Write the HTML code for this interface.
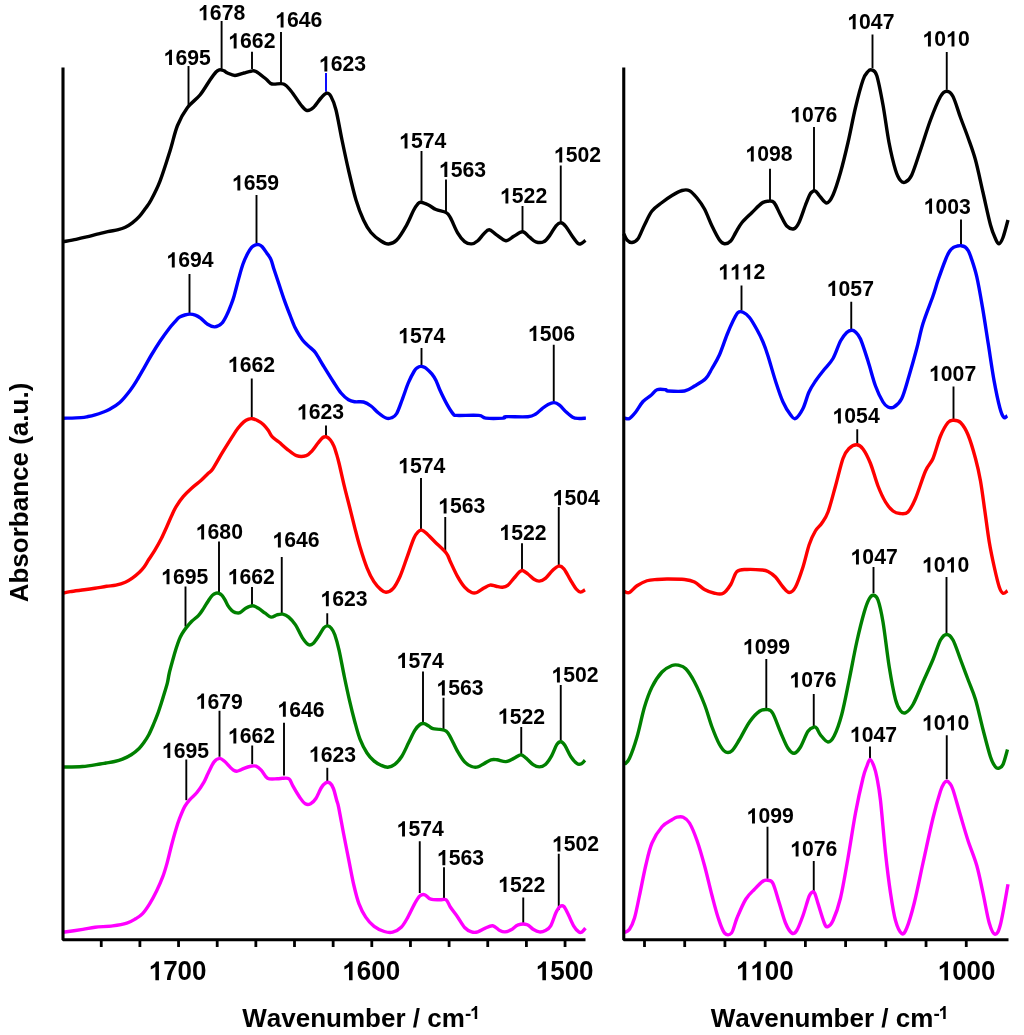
<!DOCTYPE html>
<html><head><meta charset="utf-8"><title>FTIR spectra</title>
<style>
html,body{margin:0;padding:0;background:#fff;}
body{width:1024px;height:1035px;overflow:hidden;}
svg{display:block;will-change:transform;}
text{font-family:"Liberation Sans",sans-serif;font-weight:bold;fill:#000;font-kerning:none;}
.c{fill:none;stroke-width:3.4;stroke-linejoin:round;stroke-linecap:butt;}
.ax{stroke:#000;stroke-width:3.1;fill:none;stroke-linecap:butt;stroke-linejoin:bevel;}
.tk{stroke:#000;stroke-width:2.8;}
.ld{stroke-width:1.9;}
.pl{font-size:21.2px;}
.tl{font-size:26px;}
.tt{font-size:26px;}
</style></head>
<body>
<svg width="1024" height="1035" viewBox="0 0 1024 1035">
<rect width="1024" height="1035" fill="#fff"/>
<defs><path id="one" d="M806 0H525V1059Q371 915 162 846V1101Q272 1137 401 1237.5Q530 1338 578 1472H806Z"/></defs>
<g class="ld">
<line x1="188.50" y1="66.00" x2="188.50" y2="105.80" stroke="#000"/>
<line x1="221.60" y1="21.00" x2="221.60" y2="68.80" stroke="#000"/>
<line x1="252.00" y1="51.70" x2="252.00" y2="69.00" stroke="#000"/>
<line x1="281.00" y1="32.00" x2="281.00" y2="84.80" stroke="#000"/>
<line x1="326.00" y1="73.00" x2="326.00" y2="91.80" stroke="#0000ff"/>
<line x1="421.50" y1="151.00" x2="421.50" y2="200.80" stroke="#000"/>
<line x1="446.00" y1="179.50" x2="446.00" y2="212.80" stroke="#000"/>
<line x1="522.50" y1="206.00" x2="522.50" y2="230.80" stroke="#000"/>
<line x1="560.75" y1="165.50" x2="560.75" y2="221.80" stroke="#000"/>
<line x1="770.00" y1="168.75" x2="770.00" y2="200.80" stroke="#000"/>
<line x1="814.00" y1="127.00" x2="814.00" y2="190.30" stroke="#000"/>
<line x1="872.50" y1="34.50" x2="872.50" y2="68.30" stroke="#000"/>
<line x1="946.75" y1="52.00" x2="946.75" y2="89.80" stroke="#000"/>
<line x1="256.50" y1="195.00" x2="256.50" y2="243.30" stroke="#000"/>
<line x1="189.50" y1="274.00" x2="189.50" y2="314.30" stroke="#000"/>
<line x1="421.50" y1="348.00" x2="421.50" y2="365.80" stroke="#000"/>
<line x1="553.75" y1="344.75" x2="553.75" y2="401.80" stroke="#000"/>
<line x1="741.50" y1="285.50" x2="741.50" y2="310.55" stroke="#000"/>
<line x1="851.25" y1="301.75" x2="851.25" y2="329.30" stroke="#000"/>
<line x1="961.00" y1="219.50" x2="961.00" y2="244.30" stroke="#000"/>
<line x1="251.75" y1="378.50" x2="251.75" y2="417.80" stroke="#000"/>
<line x1="326.00" y1="425.50" x2="326.00" y2="436.30" stroke="#000"/>
<line x1="421.00" y1="478.00" x2="421.00" y2="529.05" stroke="#000"/>
<line x1="445.25" y1="517.00" x2="445.25" y2="551.80" stroke="#000"/>
<line x1="522.00" y1="543.25" x2="522.00" y2="570.30" stroke="#000"/>
<line x1="558.75" y1="507.00" x2="558.75" y2="565.60" stroke="#000"/>
<line x1="857.25" y1="429.25" x2="857.25" y2="443.80" stroke="#000"/>
<line x1="953.50" y1="386.50" x2="953.50" y2="419.30" stroke="#000"/>
<line x1="185.50" y1="586.50" x2="185.50" y2="626.55" stroke="#000"/>
<line x1="219.00" y1="541.50" x2="219.00" y2="592.80" stroke="#000"/>
<line x1="252.00" y1="587.00" x2="252.00" y2="605.80" stroke="#000"/>
<line x1="281.75" y1="557.00" x2="281.75" y2="614.05" stroke="#000"/>
<line x1="327.25" y1="613.25" x2="327.25" y2="625.30" stroke="#000"/>
<line x1="423.00" y1="671.50" x2="423.00" y2="723.30" stroke="#000"/>
<line x1="443.50" y1="697.75" x2="443.50" y2="729.05" stroke="#000"/>
<line x1="521.25" y1="727.00" x2="521.25" y2="754.05" stroke="#000"/>
<line x1="560.75" y1="685.00" x2="560.75" y2="740.80" stroke="#000"/>
<line x1="766.30" y1="659.00" x2="766.30" y2="709.05" stroke="#000"/>
<line x1="813.75" y1="694.00" x2="813.75" y2="726.55" stroke="#000"/>
<line x1="873.50" y1="567.00" x2="873.50" y2="593.30" stroke="#000"/>
<line x1="946.50" y1="577.00" x2="946.50" y2="633.30" stroke="#000"/>
<line x1="186.30" y1="759.50" x2="186.30" y2="800.20" stroke="#000"/>
<line x1="219.50" y1="710.75" x2="219.50" y2="756.80" stroke="#000"/>
<line x1="252.20" y1="745.50" x2="252.20" y2="764.20" stroke="#000"/>
<line x1="284.00" y1="722.75" x2="284.00" y2="775.60" stroke="#000"/>
<line x1="327.30" y1="767.80" x2="327.30" y2="781.80" stroke="#000"/>
<line x1="419.75" y1="841.25" x2="419.75" y2="893.05" stroke="#000"/>
<line x1="444.00" y1="867.25" x2="444.00" y2="898.80" stroke="#000"/>
<line x1="523.25" y1="897.50" x2="523.25" y2="923.80" stroke="#000"/>
<line x1="558.75" y1="853.75" x2="558.75" y2="910.05" stroke="#000"/>
<line x1="767.50" y1="826.75" x2="767.50" y2="878.80" stroke="#000"/>
<line x1="813.75" y1="861.00" x2="813.75" y2="891.30" stroke="#000"/>
<line x1="870.00" y1="746.50" x2="870.00" y2="759.05" stroke="#000"/>
<line x1="946.75" y1="735.25" x2="946.75" y2="779.30" stroke="#000"/>
</g>
<path class="c" stroke="#000000" d="M63.00 241.80 C65.18 241.38 72.17 240.12 76.10 239.30 C80.03 238.48 83.08 237.75 86.60 236.90 C90.12 236.05 93.68 235.08 97.20 234.20 C100.72 233.32 104.18 232.35 107.70 231.60 C111.22 230.85 115.37 230.42 118.30 229.70 C121.23 228.98 122.97 228.43 125.30 227.30 C127.63 226.17 129.95 224.72 132.30 222.90 C134.65 221.08 137.25 218.75 139.40 216.40 C141.55 214.05 143.25 211.53 145.20 208.80 C147.15 206.07 148.63 204.60 151.10 200.00 C153.57 195.40 156.85 189.37 160.00 181.20 C163.15 173.03 167.08 160.28 170.00 151.00 C172.92 141.72 174.58 132.75 177.50 125.50 C180.42 118.25 183.75 112.58 187.50 107.50 C191.25 102.42 196.25 99.58 200.00 95.00 C203.75 90.42 207.33 83.83 210.00 80.00 C212.67 76.17 214.42 73.70 216.00 72.00 C217.58 70.30 218.50 70.12 219.50 69.80 C220.50 69.48 221.17 69.90 222.00 70.10 C222.83 70.30 223.58 70.52 224.50 71.00 C225.42 71.48 225.75 72.25 227.50 73.00 C229.25 73.75 232.25 75.50 235.00 75.50 C237.75 75.50 241.33 73.72 244.00 73.00 C246.67 72.28 249.00 71.45 251.00 71.20 C253.00 70.95 253.50 70.20 256.00 71.50 C258.50 72.80 263.33 76.92 266.00 79.00 C268.67 81.08 269.08 83.17 272.00 84.00 C274.92 84.83 280.33 82.83 283.50 84.00 C286.67 85.17 288.08 87.50 291.00 91.00 C293.92 94.50 298.33 101.75 301.00 105.00 C303.67 108.25 304.92 110.08 307.00 110.50 C309.08 110.92 311.17 109.58 313.50 107.50 C315.83 105.42 318.83 100.38 321.00 98.00 C323.17 95.62 324.83 93.45 326.50 93.20 C328.17 92.95 329.42 93.70 331.00 96.50 C332.58 99.30 334.17 102.75 336.00 110.00 C337.83 117.25 339.92 130.00 342.00 140.00 C344.08 150.00 346.17 160.00 348.50 170.00 C350.83 180.00 353.50 191.67 356.00 200.00 C358.50 208.33 361.00 214.58 363.50 220.00 C366.00 225.42 368.08 229.00 371.00 232.50 C373.92 236.00 378.08 239.08 381.00 241.00 C383.92 242.92 385.92 244.12 388.50 244.00 C391.08 243.88 393.50 243.42 396.50 240.30 C399.50 237.18 403.67 230.27 406.50 225.30 C409.33 220.33 411.61 214.07 413.50 210.50 C415.39 206.93 416.60 205.24 417.85 203.86 C419.10 202.48 419.23 202.01 421.00 202.20 C422.77 202.39 426.00 203.78 428.50 205.00 C431.00 206.22 433.05 208.23 436.00 209.50 C438.95 210.77 443.78 211.20 446.20 212.60 C448.62 214.00 448.60 214.53 450.50 217.90 C452.40 221.27 455.25 228.85 457.60 232.80 C459.95 236.75 462.27 239.75 464.60 241.60 C466.93 243.45 469.40 244.05 471.60 243.90 C473.80 243.75 475.75 242.40 477.80 240.70 C479.85 239.00 482.00 235.52 483.90 233.70 C485.80 231.88 487.15 229.65 489.20 229.80 C491.25 229.95 493.42 232.78 496.20 234.60 C498.98 236.42 502.97 240.42 505.90 240.70 C508.83 240.98 511.02 237.78 513.80 236.30 C516.58 234.82 519.97 231.65 522.60 231.80 C525.23 231.95 527.40 235.53 529.60 237.20 C531.80 238.87 533.45 241.03 535.80 241.80 C538.15 242.57 541.37 242.87 543.70 241.80 C546.03 240.73 547.75 238.07 549.80 235.40 C551.85 232.73 554.15 227.90 556.00 225.80 C557.85 223.70 559.28 222.72 560.90 222.80 C562.52 222.88 563.88 224.20 565.70 226.30 C567.52 228.40 569.75 232.55 571.80 235.40 C573.85 238.25 576.38 242.07 578.00 243.40 C579.62 244.73 580.25 243.90 581.50 243.40 C582.75 242.90 584.83 240.90 585.50 240.40"/>
<path class="c" stroke="#000000" d="M623.75 233.75 C624.29 234.79 625.62 238.54 627.00 240.00 C628.38 241.46 630.17 242.71 632.00 242.50 C633.83 242.29 635.92 241.67 638.00 238.75 C640.08 235.83 642.17 229.62 644.50 225.00 C646.83 220.38 649.08 214.75 652.00 211.00 C654.92 207.25 658.67 205.08 662.00 202.50 C665.33 199.92 668.67 197.50 672.00 195.50 C675.33 193.50 679.08 191.30 682.00 190.50 C684.92 189.70 687.00 189.45 689.50 190.70 C692.00 191.95 694.50 194.95 697.00 198.00 C699.50 201.05 702.00 204.33 704.50 209.00 C707.00 213.67 709.50 220.83 712.00 226.00 C714.50 231.17 717.42 237.04 719.50 240.00 C721.58 242.96 722.62 243.58 724.50 243.75 C726.38 243.92 728.88 242.88 730.75 241.00 C732.62 239.12 733.88 235.58 735.75 232.50 C737.62 229.42 739.29 225.83 742.00 222.50 C744.71 219.17 748.67 215.75 752.00 212.50 C755.33 209.25 759.33 204.88 762.00 203.00 C764.67 201.12 766.00 201.28 768.00 201.20 C770.00 201.12 771.92 200.20 774.00 202.50 C776.08 204.80 778.38 211.08 780.50 215.00 C782.62 218.92 784.50 223.71 786.75 226.00 C789.00 228.29 791.96 229.33 794.00 228.75 C796.04 228.17 797.08 226.46 799.00 222.50 C800.92 218.54 803.75 209.55 805.50 205.00 C807.25 200.45 808.42 197.38 809.50 195.20 C810.58 193.02 811.20 192.63 812.00 191.90 C812.80 191.17 813.55 190.80 814.30 190.80 C815.05 190.80 815.63 191.07 816.50 191.90 C817.37 192.73 817.79 193.95 819.50 195.80 C821.21 197.65 824.50 203.13 826.75 203.00 C829.00 202.87 830.71 200.08 833.00 195.00 C835.29 189.92 838.00 181.25 840.50 172.50 C843.00 163.75 845.50 153.33 848.00 142.50 C850.50 131.67 853.00 117.92 855.50 107.50 C858.00 97.08 860.92 86.00 863.00 80.00 C865.08 74.00 866.54 73.17 868.00 71.50 C869.46 69.83 870.29 69.28 871.75 69.95 C873.21 70.62 874.88 69.66 876.75 75.50 C878.62 81.34 880.96 93.83 883.00 105.00 C885.04 116.17 886.92 131.67 889.00 142.50 C891.08 153.33 893.58 163.67 895.50 170.00 C897.42 176.33 898.83 178.50 900.50 180.50 C902.17 182.50 903.62 182.92 905.50 182.00 C907.38 181.08 909.25 180.33 911.75 175.00 C914.25 169.67 917.38 159.17 920.50 150.00 C923.62 140.83 927.17 128.92 930.50 120.00 C933.83 111.08 937.79 101.30 940.50 96.50 C943.21 91.70 944.67 91.20 946.75 91.20 C948.83 91.20 950.71 92.12 953.00 96.50 C955.29 100.88 958.00 110.67 960.50 117.50 C963.00 124.33 965.50 130.42 968.00 137.50 C970.50 144.58 973.00 150.83 975.50 160.00 C978.00 169.17 980.50 181.67 983.00 192.50 C985.50 203.33 988.42 217.29 990.50 225.00 C992.58 232.71 994.08 235.62 995.50 238.75 C996.92 241.88 997.75 243.96 999.00 243.75 C1000.25 243.54 1001.50 241.46 1003.00 237.50 C1004.50 233.54 1007.17 222.92 1008.00 220.00"/>
<path class="c" stroke="#0000ff" d="M63.00 418.30 C66.02 418.18 76.92 417.90 81.10 417.60 C85.28 417.30 85.77 416.97 88.10 416.50 C90.43 416.03 92.75 415.47 95.10 414.80 C97.45 414.13 99.85 413.38 102.20 412.50 C104.55 411.62 106.28 411.17 109.20 409.50 C112.12 407.83 116.23 405.72 119.75 402.50 C123.27 399.28 127.38 394.02 130.30 390.20 C133.23 386.38 134.95 383.42 137.30 379.60 C139.65 375.78 142.05 371.40 144.40 367.30 C146.75 363.20 148.77 359.38 151.40 355.00 C154.03 350.62 157.27 345.38 160.20 341.00 C163.13 336.62 166.52 331.93 169.00 328.70 C171.48 325.47 173.35 323.52 175.10 321.60 C176.85 319.68 177.88 318.30 179.50 317.20 C181.12 316.10 183.03 315.52 184.80 315.00 C186.57 314.48 188.35 314.08 190.10 314.10 C191.85 314.12 193.55 314.43 195.30 315.10 C197.05 315.77 198.55 316.57 200.60 318.10 C202.65 319.63 205.25 322.83 207.60 324.30 C209.95 325.77 212.35 327.05 214.70 326.90 C217.05 326.75 219.65 325.45 221.70 323.40 C223.75 321.35 225.45 317.67 227.00 314.60 C228.55 311.53 229.82 308.12 231.00 305.00 C232.18 301.88 232.81 300.33 234.10 295.90 C235.39 291.47 237.28 283.67 238.75 278.40 C240.22 273.13 241.44 268.41 242.90 264.30 C244.36 260.19 246.05 256.58 247.50 253.75 C248.95 250.92 250.32 248.76 251.60 247.30 C252.88 245.84 254.02 245.45 255.20 245.00 C256.38 244.55 257.53 244.32 258.70 244.60 C259.87 244.88 260.83 245.27 262.20 246.70 C263.57 248.13 265.43 251.05 266.90 253.20 C268.37 255.35 269.83 256.97 271.00 259.60 C272.17 262.23 272.63 265.10 273.90 269.00 C275.17 272.90 276.83 277.73 278.60 283.00 C280.37 288.27 282.55 295.12 284.50 300.60 C286.45 306.08 288.55 311.40 290.30 315.90 C292.05 320.40 293.43 324.28 295.00 327.60 C296.57 330.92 298.13 333.37 299.70 335.80 C301.27 338.23 302.65 340.25 304.40 342.20 C306.15 344.15 308.35 345.73 310.20 347.50 C312.05 349.27 313.28 349.72 315.50 352.80 C317.72 355.88 320.50 361.13 323.50 366.00 C326.50 370.87 330.58 377.50 333.50 382.00 C336.42 386.50 338.50 390.04 341.00 393.00 C343.50 395.96 346.21 398.29 348.50 399.75 C350.79 401.21 352.25 401.38 354.75 401.75 C357.25 402.12 360.79 401.29 363.50 402.00 C366.21 402.71 368.50 404.17 371.00 406.00 C373.50 407.83 376.00 411.00 378.50 413.00 C381.00 415.00 383.83 417.20 386.00 418.00 C388.17 418.80 389.72 418.55 391.50 417.80 C393.28 417.05 394.87 416.67 396.70 413.50 C398.53 410.33 400.55 403.93 402.50 398.80 C404.45 393.67 406.43 387.33 408.40 382.70 C410.37 378.07 412.78 373.52 414.30 371.00 C415.82 368.48 416.42 368.37 417.50 367.60 C418.58 366.83 419.80 366.52 420.80 366.40 C421.80 366.28 422.63 366.58 423.50 366.90 C424.37 367.22 424.62 367.13 426.00 368.30 C427.38 369.47 430.13 371.87 431.80 373.90 C433.47 375.93 434.63 377.77 436.00 380.50 C437.37 383.23 438.17 386.32 440.00 390.30 C441.83 394.28 444.80 400.45 447.00 404.40 C449.20 408.35 451.58 412.17 453.20 414.00 C454.82 415.83 452.45 415.17 456.70 415.40 C460.95 415.63 473.87 414.95 478.70 415.40 C483.53 415.85 481.60 417.65 485.70 418.10 C489.80 418.55 499.93 418.33 503.30 418.10 C506.67 417.87 501.80 416.93 505.90 416.70 C510.00 416.47 522.92 417.15 527.90 416.70 C532.88 416.25 533.47 415.32 535.80 414.00 C538.13 412.68 539.85 410.40 541.90 408.80 C543.95 407.20 546.05 405.43 548.10 404.40 C550.15 403.37 552.30 402.47 554.20 402.60 C556.10 402.73 557.45 403.58 559.50 405.20 C561.55 406.82 564.30 410.30 566.50 412.30 C568.70 414.30 570.78 416.18 572.70 417.20 C574.62 418.22 575.80 418.25 578.00 418.40 C580.20 418.55 584.58 418.15 585.90 418.10"/>
<path class="c" stroke="#0000ff" d="M624.50 418.00 C625.33 418.08 627.62 419.50 629.50 418.50 C631.38 417.50 633.50 414.83 635.75 412.00 C638.00 409.17 640.50 404.25 643.00 401.50 C645.50 398.75 648.42 397.46 650.75 395.50 C653.08 393.54 654.50 390.71 657.00 389.75 C659.50 388.79 663.92 389.54 665.75 389.75 C667.58 389.96 664.88 390.79 668.00 391.00 C671.12 391.21 680.08 391.83 684.50 391.00 C688.92 390.17 690.96 388.08 694.50 386.00 C698.04 383.92 702.83 381.42 705.75 378.50 C708.67 375.58 709.71 372.46 712.00 368.50 C714.29 364.54 717.00 360.38 719.50 354.75 C722.00 349.12 724.75 340.38 727.00 334.75 C729.25 329.12 731.17 324.71 733.00 321.00 C734.83 317.29 736.33 313.97 738.00 312.50 C739.67 311.03 741.08 311.37 743.00 312.20 C744.92 313.03 747.17 314.57 749.50 317.50 C751.83 320.43 754.75 325.67 757.00 329.75 C759.25 333.83 761.17 337.62 763.00 342.00 C764.83 346.38 765.92 349.50 768.00 356.00 C770.08 362.50 773.00 373.33 775.50 381.00 C778.00 388.67 780.50 396.38 783.00 402.00 C785.50 407.62 788.42 412.00 790.50 414.75 C792.58 417.50 793.42 419.54 795.50 418.50 C797.58 417.46 800.75 412.92 803.00 408.50 C805.25 404.08 806.92 396.58 809.00 392.00 C811.08 387.42 813.00 384.71 815.50 381.00 C818.00 377.29 821.08 373.50 824.00 369.75 C826.92 366.00 830.25 363.29 833.00 358.50 C835.75 353.71 838.21 345.33 840.50 341.00 C842.79 336.67 844.88 334.30 846.75 332.50 C848.62 330.70 850.30 330.29 851.75 330.20 C853.20 330.11 853.97 330.49 855.42 331.96 C856.88 333.43 858.40 334.16 860.50 339.00 C862.60 343.84 865.50 353.17 868.00 361.00 C870.50 368.83 873.00 379.17 875.50 386.00 C878.00 392.83 880.92 398.50 883.00 402.00 C885.08 405.50 886.17 406.17 888.00 407.00 C889.83 407.83 891.71 408.42 894.00 407.00 C896.29 405.58 899.25 403.67 901.75 398.50 C904.25 393.33 906.50 384.33 909.00 376.00 C911.50 367.67 914.42 357.25 916.75 348.50 C919.08 339.75 920.29 332.25 923.00 323.50 C925.71 314.75 930.50 303.20 933.00 296.00 C935.50 288.80 935.87 286.47 938.00 280.30 C940.13 274.13 943.87 263.83 945.80 259.00 C947.73 254.17 948.32 253.23 949.60 251.30 C950.88 249.37 952.20 248.28 953.50 247.40 C954.80 246.52 956.12 246.28 957.40 246.00 C958.68 245.72 959.92 245.53 961.20 245.70 C962.48 245.87 963.97 246.23 965.10 247.00 C966.23 247.77 967.03 248.62 968.00 250.30 C968.97 251.98 969.45 252.75 970.90 257.10 C972.35 261.45 974.77 268.02 976.70 276.40 C978.63 284.78 980.57 296.12 982.50 307.40 C984.43 318.68 986.37 331.85 988.30 344.10 C990.23 356.35 992.17 370.25 994.10 380.90 C996.03 391.55 998.28 401.92 999.90 408.00 C1001.52 414.08 1002.57 416.12 1003.80 417.40 C1005.03 418.68 1006.72 415.98 1007.30 415.70"/>
<path class="c" stroke="#ff0000" d="M63.00 593.30 C64.20 593.02 66.65 592.18 70.20 591.60 C73.75 591.02 80.20 590.35 84.30 589.80 C88.40 589.25 91.08 588.88 94.80 588.30 C98.52 587.72 103.08 586.83 106.60 586.30 C110.12 585.77 112.78 585.78 115.90 585.10 C119.02 584.42 122.57 583.37 125.30 582.20 C128.03 581.03 129.95 579.77 132.30 578.10 C134.65 576.43 137.43 574.05 139.40 572.20 C141.37 570.35 142.54 569.12 144.10 567.00 C145.66 564.88 147.00 562.22 148.75 559.50 C150.50 556.78 152.54 554.10 154.60 550.70 C156.66 547.30 159.03 543.18 161.10 539.10 C163.17 535.02 165.25 530.15 167.00 526.25 C168.75 522.35 170.05 519.03 171.60 515.70 C173.15 512.38 174.33 509.52 176.30 506.30 C178.27 503.08 180.85 499.42 183.40 496.40 C185.95 493.38 188.68 490.85 191.60 488.20 C194.52 485.55 198.17 482.95 200.90 480.50 C203.63 478.05 206.07 475.37 208.00 473.50 C209.93 471.63 210.12 472.77 212.50 469.30 C214.88 465.83 219.05 458.07 222.30 452.70 C225.55 447.33 229.40 441.17 232.00 437.10 C234.60 433.03 235.93 430.83 237.90 428.30 C239.87 425.77 242.02 423.43 243.80 421.90 C245.58 420.37 247.15 419.62 248.60 419.10 C250.05 418.58 251.03 418.52 252.50 418.75 C253.97 418.98 255.60 419.56 257.40 420.50 C259.20 421.44 261.50 422.77 263.30 424.40 C265.10 426.03 266.73 428.25 268.20 430.30 C269.67 432.35 270.32 434.75 272.10 436.70 C273.88 438.65 276.47 439.98 278.90 442.00 C281.33 444.02 283.77 446.52 286.70 448.80 C289.63 451.08 293.24 454.55 296.50 455.70 C299.76 456.85 303.65 456.52 306.25 455.70 C308.85 454.88 310.14 452.92 312.10 450.80 C314.06 448.68 316.20 445.22 318.00 443.00 C319.80 440.78 321.48 438.52 322.90 437.50 C324.32 436.48 325.25 436.48 326.50 436.90 C327.75 437.32 329.17 438.47 330.40 440.00 C331.63 441.53 332.88 443.78 333.90 446.10 C334.92 448.42 335.63 451.00 336.50 453.90 C337.37 456.80 337.80 458.13 339.10 463.50 C340.40 468.87 342.55 478.85 344.30 486.10 C346.05 493.35 347.85 500.05 349.60 507.00 C351.35 513.95 353.07 521.13 354.80 527.80 C356.53 534.47 357.97 540.33 360.00 547.00 C362.03 553.67 364.68 562.02 367.00 567.80 C369.32 573.58 371.58 578.07 373.90 581.70 C376.22 585.33 378.87 587.85 380.90 589.60 C382.93 591.35 384.08 592.35 386.10 592.20 C388.12 592.05 390.68 591.32 393.00 588.70 C395.32 586.08 397.67 581.72 400.00 576.50 C402.33 571.28 404.68 563.77 407.00 557.40 C409.32 551.03 412.02 542.60 413.90 538.30 C415.78 534.00 417.00 532.95 418.30 531.60 C419.60 530.25 420.40 529.97 421.70 530.20 C423.00 530.43 423.92 531.08 426.10 533.00 C428.28 534.92 431.45 538.37 434.80 541.70 C438.15 545.03 443.58 549.62 446.20 553.00 C448.82 556.38 448.60 558.05 450.50 562.00 C452.40 565.95 455.25 572.50 457.60 576.70 C459.95 580.90 462.27 584.57 464.60 587.20 C466.93 589.83 469.55 591.62 471.60 592.50 C473.65 593.38 474.85 593.23 476.90 592.50 C478.95 591.77 481.70 589.33 483.90 588.10 C486.10 586.87 488.05 585.40 490.10 585.10 C492.15 584.80 494.15 585.95 496.20 586.30 C498.25 586.65 500.48 587.35 502.40 587.20 C504.32 587.05 505.80 586.87 507.70 585.40 C509.60 583.93 511.90 580.58 513.80 578.40 C515.70 576.22 517.63 573.62 519.10 572.30 C520.57 570.98 521.13 570.22 522.60 570.50 C524.07 570.78 526.00 572.53 527.90 574.00 C529.80 575.47 532.10 578.12 534.00 579.30 C535.90 580.48 537.40 581.25 539.30 581.10 C541.20 580.95 543.20 580.17 545.40 578.40 C547.60 576.63 550.30 572.55 552.50 570.50 C554.70 568.45 556.70 566.38 558.60 566.10 C560.50 565.82 561.98 566.60 563.90 568.80 C565.82 571.00 568.05 575.93 570.10 579.30 C572.15 582.67 574.45 586.87 576.20 589.00 C577.95 591.13 579.13 591.97 580.60 592.10 C582.07 592.23 584.27 590.18 585.00 589.80"/>
<path class="c" stroke="#ff0000" d="M624.50 591.50 C625.33 591.67 627.42 593.46 629.50 592.50 C631.58 591.54 634.08 587.71 637.00 585.75 C639.92 583.79 643.67 581.80 647.00 580.75 C650.33 579.70 653.67 579.74 657.00 579.45 C660.33 579.16 662.42 579.00 667.00 579.00 C671.58 579.00 679.92 578.95 684.50 579.45 C689.08 579.95 691.17 580.33 694.50 582.00 C697.83 583.67 701.17 587.62 704.50 589.50 C707.83 591.38 711.38 592.62 714.50 593.25 C717.62 593.88 720.54 594.71 723.25 593.25 C725.96 591.79 728.46 588.12 730.75 584.50 C733.04 580.88 734.29 574.01 737.00 571.50 C739.71 568.99 742.83 569.70 747.00 569.45 C751.17 569.20 758.50 569.66 762.00 570.00 C765.50 570.34 765.75 570.33 768.00 571.50 C770.25 572.67 773.00 574.42 775.50 577.00 C778.00 579.58 780.71 584.42 783.00 587.00 C785.29 589.58 787.17 592.50 789.25 592.50 C791.33 592.50 793.21 591.25 795.50 587.00 C797.79 582.75 800.71 574.08 803.00 567.00 C805.29 559.92 807.17 550.54 809.25 544.50 C811.33 538.46 813.42 534.29 815.50 530.75 C817.58 527.21 819.67 526.38 821.75 523.25 C823.83 520.12 825.71 518.21 828.00 512.00 C830.29 505.79 833.00 494.92 835.50 486.00 C838.00 477.08 840.75 464.75 843.00 458.50 C845.25 452.25 846.71 450.80 849.00 448.50 C851.29 446.20 854.42 444.62 856.75 444.70 C859.08 444.78 860.71 445.87 863.00 449.00 C865.29 452.13 868.00 457.33 870.50 463.50 C873.00 469.67 875.50 479.58 878.00 486.00 C880.50 492.42 883.00 497.83 885.50 502.00 C888.00 506.17 890.58 509.08 893.00 511.00 C895.42 512.92 897.50 513.33 900.00 513.50 C902.50 513.67 905.42 514.50 908.00 512.00 C910.58 509.50 912.58 505.33 915.50 498.50 C918.42 491.67 922.58 477.67 925.50 471.00 C928.42 464.33 930.50 464.33 933.00 458.50 C935.50 452.67 938.00 442.00 940.50 436.00 C943.00 430.00 945.83 425.13 948.00 422.50 C950.17 419.87 951.42 420.20 953.50 420.20 C955.58 420.20 958.08 420.07 960.50 422.50 C962.92 424.93 965.50 428.75 968.00 434.75 C970.50 440.75 973.42 450.79 975.50 458.50 C977.58 466.21 978.92 472.08 980.50 481.00 C982.08 489.92 983.54 501.83 985.00 512.00 C986.46 522.17 987.71 532.83 989.25 542.00 C990.79 551.17 992.58 559.50 994.25 567.00 C995.92 574.50 997.79 582.62 999.25 587.00 C1000.71 591.38 1001.62 592.62 1003.00 593.25 C1004.38 593.88 1006.75 591.17 1007.50 590.75"/>
<path class="c" stroke="#008000" d="M63.00 767.00 C66.25 766.92 76.33 767.00 82.50 766.50 C88.67 766.00 96.10 764.58 100.00 764.00 C103.90 763.42 103.47 763.42 105.90 763.00 C108.33 762.58 111.83 762.15 114.60 761.50 C117.37 760.85 119.72 760.23 122.50 759.10 C125.28 757.97 128.48 756.48 131.25 754.70 C134.02 752.92 136.99 750.43 139.10 748.40 C141.21 746.37 142.28 744.78 143.90 742.50 C145.52 740.22 147.17 737.80 148.80 734.70 C150.43 731.60 152.23 727.32 153.70 723.90 C155.17 720.48 156.30 717.77 157.60 714.20 C158.90 710.63 160.35 706.08 161.50 702.50 C162.65 698.92 163.52 695.97 164.50 692.70 C165.48 689.43 166.60 686.18 167.40 682.90 C168.20 679.62 168.42 676.77 169.30 673.00 C170.18 669.23 171.57 664.37 172.70 660.30 C173.83 656.23 175.03 652.02 176.10 648.60 C177.17 645.18 178.12 642.25 179.10 639.80 C180.08 637.35 180.87 635.85 182.00 633.90 C183.13 631.95 184.27 630.21 185.90 628.10 C187.53 625.99 189.68 623.37 191.80 621.25 C193.92 619.13 196.65 617.51 198.60 615.40 C200.55 613.29 201.87 611.05 203.50 608.60 C205.13 606.15 206.93 602.90 208.40 600.70 C209.87 598.50 211.00 596.67 212.30 595.40 C213.60 594.13 215.07 593.43 216.20 593.10 C217.33 592.77 218.13 593.02 219.10 593.40 C220.07 593.78 221.02 594.33 222.00 595.40 C222.98 596.47 224.02 598.10 225.00 599.80 C225.98 601.50 226.77 603.82 227.90 605.60 C229.03 607.38 230.58 609.35 231.80 610.50 C233.02 611.65 233.83 612.13 235.20 612.50 C236.57 612.87 238.25 613.40 240.00 612.70 C241.75 612.00 243.62 609.45 245.70 608.30 C247.78 607.15 250.38 605.80 252.50 605.80 C254.62 605.80 256.28 607.07 258.40 608.30 C260.52 609.53 263.08 611.73 265.20 613.20 C267.32 614.67 269.13 616.83 271.10 617.10 C273.07 617.37 275.05 615.28 277.00 614.80 C278.95 614.32 280.85 613.82 282.80 614.20 C284.75 614.58 286.58 615.32 288.70 617.10 C290.82 618.88 293.23 621.48 295.50 624.90 C297.77 628.32 300.18 634.33 302.30 637.60 C304.42 640.87 306.40 643.52 308.20 644.50 C310.00 645.48 311.32 644.97 313.10 643.50 C314.88 642.03 317.12 638.30 318.90 635.70 C320.68 633.10 322.33 629.53 323.80 627.90 C325.27 626.27 326.45 625.83 327.70 625.90 C328.95 625.97 330.12 626.82 331.30 628.30 C332.48 629.78 333.50 631.12 334.80 634.80 C336.10 638.48 337.52 643.45 339.10 650.40 C340.68 657.35 342.55 668.08 344.30 676.50 C346.05 684.92 347.85 693.37 349.60 700.90 C351.35 708.43 353.07 715.33 354.80 721.70 C356.53 728.07 357.97 733.88 360.00 739.10 C362.03 744.32 364.68 749.37 367.00 753.00 C369.32 756.63 371.58 758.87 373.90 760.90 C376.22 762.93 378.58 764.15 380.90 765.20 C383.22 766.25 385.48 767.35 387.80 767.20 C390.12 767.05 392.48 766.08 394.80 764.30 C397.12 762.52 399.38 760.12 401.70 756.50 C404.02 752.88 406.52 746.95 408.70 742.60 C410.88 738.25 412.92 733.42 414.80 730.40 C416.68 727.38 418.42 725.62 420.00 724.50 C421.58 723.38 422.85 723.43 424.30 723.70 C425.75 723.97 427.25 725.27 428.70 726.10 C430.15 726.93 431.12 728.15 433.00 728.70 C434.88 729.25 437.80 728.98 440.00 729.40 C442.20 729.82 444.45 729.88 446.20 731.20 C447.95 732.52 448.60 733.93 450.50 737.30 C452.40 740.67 455.25 747.30 457.60 751.40 C459.95 755.50 462.27 759.38 464.60 761.90 C466.93 764.42 469.40 765.67 471.60 766.50 C473.80 767.33 475.75 767.37 477.80 766.90 C479.85 766.43 481.70 764.88 483.90 763.70 C486.10 762.52 488.80 760.45 491.00 759.80 C493.20 759.15 494.62 759.50 497.10 759.80 C499.58 760.10 503.12 761.83 505.90 761.60 C508.68 761.37 511.32 759.52 513.80 758.40 C516.28 757.28 518.75 754.95 520.80 754.90 C522.85 754.85 524.05 756.48 526.10 758.10 C528.15 759.72 530.90 763.13 533.10 764.60 C535.30 766.07 537.25 766.90 539.30 766.90 C541.35 766.90 543.35 766.45 545.40 764.60 C547.45 762.75 549.68 759.17 551.60 755.80 C553.52 752.43 555.35 746.75 556.90 744.40 C558.45 742.05 559.58 741.57 560.90 741.70 C562.22 741.83 563.13 742.70 564.80 745.20 C566.47 747.70 568.85 753.62 570.90 756.70 C572.95 759.78 575.33 762.53 577.10 763.70 C578.87 764.87 580.18 764.28 581.50 763.70 C582.82 763.12 584.42 760.78 585.00 760.20"/>
<path class="c" stroke="#008000" d="M624.50 764.50 C625.33 763.46 627.42 762.83 629.50 758.25 C631.58 753.67 634.50 745.54 637.00 737.00 C639.50 728.46 642.00 715.33 644.50 707.00 C647.00 698.67 649.08 692.83 652.00 687.00 C654.92 681.17 658.67 675.58 662.00 672.00 C665.33 668.42 669.29 666.63 672.00 665.50 C674.71 664.37 675.96 664.66 678.25 665.20 C680.54 665.74 683.04 665.95 685.75 668.75 C688.46 671.55 691.38 676.04 694.50 682.00 C697.62 687.96 701.58 697.00 704.50 704.50 C707.42 712.00 709.50 720.33 712.00 727.00 C714.50 733.67 717.21 740.33 719.50 744.50 C721.79 748.67 723.67 750.96 725.75 752.00 C727.83 753.04 729.71 752.83 732.00 750.75 C734.29 748.67 736.58 744.29 739.50 739.50 C742.42 734.71 746.17 726.71 749.50 722.00 C752.83 717.29 756.42 713.30 759.50 711.25 C762.58 709.20 765.75 709.28 768.00 709.70 C770.25 710.12 770.92 710.03 773.00 713.75 C775.08 717.47 778.00 726.25 780.50 732.00 C783.00 737.75 785.71 744.71 788.00 748.25 C790.29 751.79 792.17 753.46 794.25 753.25 C796.33 753.04 798.21 750.67 800.50 747.00 C802.79 743.33 805.71 734.59 808.00 731.25 C810.29 727.91 812.77 727.40 814.25 726.95 C815.73 726.50 815.83 727.22 816.88 728.56 C817.92 729.90 818.65 732.76 820.50 735.00 C822.35 737.24 825.71 741.88 828.00 742.00 C830.29 742.12 831.96 740.33 834.25 735.75 C836.54 731.17 839.25 723.88 841.75 714.50 C844.25 705.12 846.75 691.58 849.25 679.50 C851.75 667.42 854.25 653.25 856.75 642.00 C859.25 630.75 862.17 619.21 864.25 612.00 C866.33 604.79 867.71 601.55 869.25 598.75 C870.79 595.95 872.04 594.99 873.50 595.20 C874.96 595.41 876.42 595.53 878.00 600.00 C879.58 604.47 881.12 610.83 883.00 622.00 C884.88 633.17 887.17 654.08 889.25 667.00 C891.33 679.92 893.62 692.21 895.50 699.50 C897.38 706.79 898.83 708.54 900.50 710.75 C902.17 712.96 903.42 713.79 905.50 712.75 C907.58 711.71 910.08 709.62 913.00 704.50 C915.92 699.38 919.67 689.50 923.00 682.00 C926.33 674.50 930.08 666.50 933.00 659.50 C935.92 652.50 938.21 644.17 940.50 640.00 C942.79 635.83 944.67 634.45 946.75 634.45 C948.83 634.45 950.71 635.83 953.00 640.00 C955.29 644.17 958.00 652.92 960.50 659.50 C963.00 666.08 965.50 672.83 968.00 679.50 C970.50 686.17 973.00 691.17 975.50 699.50 C978.00 707.83 980.50 719.92 983.00 729.50 C985.50 739.08 988.42 750.75 990.50 757.00 C992.58 763.25 994.04 765.17 995.50 767.00 C996.96 768.83 998.00 768.42 999.25 768.00 C1000.50 767.58 1001.62 767.58 1003.00 764.50 C1004.38 761.42 1006.75 752.00 1007.50 749.50"/>
<path class="c" stroke="#ff00ff" d="M63.00 932.30 C66.30 931.82 77.45 930.23 82.80 929.40 C88.15 928.57 90.12 927.88 95.10 927.30 C100.08 926.72 107.42 926.58 112.70 925.90 C117.98 925.22 122.98 924.38 126.80 923.20 C130.62 922.02 132.97 920.40 135.60 918.80 C138.23 917.20 140.27 916.08 142.60 913.60 C144.93 911.12 147.25 907.72 149.60 903.90 C151.95 900.08 154.50 895.23 156.70 890.70 C158.90 886.17 161.05 881.38 162.80 876.70 C164.55 872.02 165.73 867.88 167.20 862.60 C168.67 857.32 170.13 850.57 171.60 845.00 C173.07 839.43 174.68 833.58 176.00 829.20 C177.32 824.82 178.03 822.50 179.50 818.70 C180.97 814.90 183.03 809.63 184.80 806.40 C186.57 803.17 188.05 801.65 190.10 799.30 C192.15 796.95 194.77 795.22 197.10 792.30 C199.43 789.38 202.28 784.93 204.10 781.80 C205.92 778.67 206.37 776.78 208.00 773.50 C209.63 770.22 211.95 764.62 213.90 762.10 C215.85 759.58 217.93 758.53 219.70 758.40 C221.47 758.27 222.70 759.77 224.50 761.30 C226.30 762.83 228.98 766.12 230.50 767.60 C232.02 769.08 232.55 769.60 233.60 770.20 C234.65 770.80 235.73 771.20 236.80 771.20 C237.87 771.20 238.80 770.68 240.00 770.20 C241.20 769.72 242.20 768.95 244.00 768.30 C245.80 767.65 248.78 766.65 250.80 766.30 C252.82 765.95 254.33 765.52 256.10 766.20 C257.87 766.88 259.50 768.38 261.40 770.40 C263.30 772.42 264.87 776.90 267.50 778.30 C270.13 779.70 274.70 778.80 277.20 778.80 C279.70 778.80 280.73 778.38 282.50 778.30 C284.27 778.22 286.55 778.04 287.80 778.30 C289.05 778.56 289.12 778.56 289.98 779.88 C290.85 781.20 291.33 783.23 293.00 786.20 C294.67 789.17 297.95 794.77 300.00 797.70 C302.05 800.63 303.53 802.78 305.30 803.80 C307.07 804.82 308.83 804.68 310.60 803.80 C312.37 802.92 314.15 801.13 315.90 798.50 C317.65 795.87 319.50 790.60 321.10 788.00 C322.70 785.40 324.03 783.73 325.50 782.90 C326.97 782.07 328.58 782.07 329.90 783.00 C331.22 783.93 332.28 785.67 333.40 788.50 C334.52 791.33 335.73 796.88 336.60 800.00 C337.47 803.12 337.42 801.48 338.60 807.20 C339.78 812.92 342.02 825.57 343.70 834.30 C345.38 843.03 347.02 851.15 348.70 859.60 C350.38 868.05 352.10 877.67 353.80 885.00 C355.50 892.33 356.92 898.25 358.90 903.60 C360.88 908.95 363.17 913.30 365.70 917.10 C368.23 920.90 371.00 924.00 374.10 926.40 C377.20 928.80 381.20 930.53 384.30 931.50 C387.40 932.47 389.88 932.90 392.70 932.20 C395.52 931.50 398.67 929.82 401.20 927.30 C403.73 924.78 405.65 921.05 407.90 917.10 C410.15 913.15 412.72 907.12 414.70 903.60 C416.68 900.08 418.12 897.47 419.80 896.00 C421.48 894.53 422.97 894.27 424.80 894.80 C426.63 895.33 428.27 898.37 430.80 899.20 C433.33 900.03 437.43 899.70 440.00 899.80 C442.57 899.90 444.45 898.55 446.20 899.80 C447.95 901.05 448.60 904.43 450.50 907.30 C452.40 910.17 455.25 913.63 457.60 917.00 C459.95 920.37 462.27 925.02 464.60 927.50 C466.93 929.98 469.40 931.17 471.60 931.90 C473.80 932.63 475.60 932.48 477.80 931.90 C480.00 931.32 482.32 929.42 484.80 928.40 C487.28 927.38 490.20 925.45 492.70 925.80 C495.20 926.15 497.75 929.48 499.80 930.50 C501.85 931.52 503.10 932.02 505.00 931.90 C506.90 931.78 509.00 930.97 511.20 929.80 C513.40 928.63 515.57 925.77 518.20 924.90 C520.83 924.03 524.52 923.87 527.00 924.60 C529.48 925.33 531.05 928.08 533.10 929.30 C535.15 930.52 537.25 931.70 539.30 931.90 C541.35 932.10 543.50 931.52 545.40 930.50 C547.30 929.48 548.93 928.78 550.70 925.80 C552.47 922.82 554.45 915.82 556.00 912.60 C557.55 909.38 558.68 907.52 560.00 906.50 C561.32 905.48 562.52 905.18 563.90 906.50 C565.28 907.82 566.68 911.18 568.30 914.40 C569.92 917.62 571.85 922.88 573.60 925.80 C575.35 928.72 577.40 930.88 578.80 931.90 C580.20 932.92 580.88 932.53 582.00 931.90 C583.12 931.27 584.92 928.73 585.50 928.10"/>
<path class="c" stroke="#ff00ff" d="M624.50 932.50 C625.33 931.96 627.83 931.67 629.50 929.25 C631.17 926.83 632.83 923.62 634.50 918.00 C636.17 912.38 637.62 904.25 639.50 895.50 C641.38 886.75 643.67 874.25 645.75 865.50 C647.83 856.75 649.29 849.46 652.00 843.00 C654.71 836.54 658.67 830.62 662.00 826.75 C665.33 822.88 669.50 821.34 672.00 819.75 C674.50 818.16 675.12 817.62 677.00 817.20 C678.88 816.78 681.17 816.28 683.25 817.25 C685.33 818.22 687.21 819.12 689.50 823.00 C691.79 826.88 694.50 833.42 697.00 840.50 C699.50 847.58 702.00 856.33 704.50 865.50 C707.00 874.67 709.71 886.75 712.00 895.50 C714.29 904.25 716.17 911.75 718.25 918.00 C720.33 924.25 722.29 930.50 724.50 933.00 C726.71 935.50 729.42 935.50 731.50 933.00 C733.58 930.50 734.62 923.62 737.00 918.00 C739.38 912.38 742.83 904.04 745.75 899.25 C748.67 894.46 751.58 892.29 754.50 889.25 C757.42 886.21 761.00 882.47 763.25 881.00 C765.50 879.53 766.38 880.03 768.00 880.45 C769.62 880.87 771.12 879.74 773.00 883.50 C774.88 887.26 777.17 896.42 779.25 903.00 C781.33 909.58 783.42 918.00 785.50 923.00 C787.58 928.00 789.88 931.75 791.75 933.00 C793.62 934.25 794.88 933.42 796.75 930.50 C798.62 927.58 800.92 921.25 803.00 915.50 C805.08 909.75 807.58 899.97 809.25 896.00 C810.92 892.03 812.02 892.02 813.00 891.70 C813.98 891.38 814.27 892.09 815.10 894.06 C815.93 896.03 816.48 898.68 818.00 903.50 C819.52 908.32 822.67 919.12 824.25 923.00 C825.83 926.88 826.04 927.17 827.50 926.75 C828.96 926.33 830.83 925.29 833.00 920.50 C835.17 915.71 838.00 908.42 840.50 898.00 C843.00 887.58 845.50 872.17 848.00 858.00 C850.50 843.83 853.00 826.33 855.50 813.00 C858.00 799.67 861.12 785.75 863.00 778.00 C864.88 770.25 865.58 769.59 866.75 766.50 C867.92 763.41 868.79 759.45 870.00 759.45 C871.21 759.45 872.83 763.41 874.00 766.50 C875.17 769.59 875.92 772.33 877.00 778.00 C878.08 783.67 879.08 788.00 880.50 800.50 C881.92 813.00 883.83 837.58 885.50 853.00 C887.17 868.42 888.83 881.75 890.50 893.00 C892.17 904.25 893.62 913.75 895.50 920.50 C897.38 927.25 899.88 932.25 901.75 933.50 C903.62 934.75 904.67 933.08 906.75 928.00 C908.83 922.92 911.54 913.83 914.25 903.00 C916.96 892.17 919.88 877.17 923.00 863.00 C926.12 848.83 930.08 830.00 933.00 818.00 C935.92 806.00 938.65 796.81 940.50 791.00 C942.35 785.19 943.08 784.79 944.12 783.16 C945.17 781.53 945.88 781.24 946.75 781.20 C947.62 781.16 948.33 781.49 949.38 782.91 C950.42 784.34 951.15 784.32 953.00 789.75 C954.85 795.18 958.00 807.04 960.50 815.50 C963.00 823.96 965.29 832.17 968.00 840.50 C970.71 848.83 974.25 856.75 976.75 865.50 C979.25 874.25 980.92 883.42 983.00 893.00 C985.08 902.58 987.25 916.12 989.25 923.00 C991.25 929.88 993.12 934.04 995.00 934.25 C996.88 934.46 998.33 932.58 1000.50 924.25 C1002.67 915.92 1006.75 890.92 1008.00 884.25"/>
<path class="ax" d="M63 67.5 V939.75 H585.5"/>
<path class="ax" d="M623.75 67.5 V939.75 H1008.5"/>
<g class="tk">
<line x1="101.25" y1="939" x2="101.25" y2="947"/>
<line x1="139.90" y1="939" x2="139.90" y2="947"/>
<line x1="178.55" y1="939" x2="178.55" y2="947"/>
<line x1="217.20" y1="939" x2="217.20" y2="947"/>
<line x1="255.85" y1="939" x2="255.85" y2="947"/>
<line x1="294.50" y1="939" x2="294.50" y2="947"/>
<line x1="333.15" y1="939" x2="333.15" y2="947"/>
<line x1="371.80" y1="939" x2="371.80" y2="947"/>
<line x1="410.45" y1="939" x2="410.45" y2="947"/>
<line x1="449.10" y1="939" x2="449.10" y2="947"/>
<line x1="487.75" y1="939" x2="487.75" y2="947"/>
<line x1="526.40" y1="939" x2="526.40" y2="947"/>
<line x1="565.05" y1="939" x2="565.05" y2="947"/>
<line x1="644.50" y1="939" x2="644.50" y2="947"/>
<line x1="684.72" y1="939" x2="684.72" y2="947"/>
<line x1="724.94" y1="939" x2="724.94" y2="947"/>
<line x1="765.16" y1="939" x2="765.16" y2="947"/>
<line x1="805.38" y1="939" x2="805.38" y2="947"/>
<line x1="845.60" y1="939" x2="845.60" y2="947"/>
<line x1="885.82" y1="939" x2="885.82" y2="947"/>
<line x1="926.04" y1="939" x2="926.04" y2="947"/>
<line x1="966.26" y1="939" x2="966.26" y2="947"/>
</g>
<use href="#one" transform="translate(148.71 980.20) scale(0.01270 -0.01270)"/><text class="tl" transform="translate(0 980.20) scale(1 1.040)" x="163.17 177.63 192.09" y="0">700</text>
<use href="#one" transform="translate(342.33 980.20) scale(0.01270 -0.01270)"/><text class="tl" transform="translate(0 980.20) scale(1 1.040)" x="356.79 371.25 385.71" y="0">600</text>
<use href="#one" transform="translate(535.71 980.20) scale(0.01270 -0.01270)"/><text class="tl" transform="translate(0 980.20) scale(1 1.040)" x="550.17 564.63 579.09" y="0">500</text>
<use href="#one" transform="translate(735.96 980.20) scale(0.01270 -0.01270)"/><use href="#one" transform="translate(750.42 980.20) scale(0.01270 -0.01270)"/><text class="tl" transform="translate(0 980.20) scale(1 1.040)" x="764.88 779.34" y="0">00</text>
<use href="#one" transform="translate(937.71 980.20) scale(0.01270 -0.01270)"/><text class="tl" transform="translate(0 980.20) scale(1 1.040)" x="952.17 966.63 981.09" y="0">000</text>
<use href="#one" transform="translate(163.63 64.90) scale(0.01035 -0.01035)"/><text class="pl" transform="translate(0 64.90) scale(1 1.040)" x="175.42 187.21 199.00" y="0">695</text>
<use href="#one" transform="translate(198.06 20.30) scale(0.01035 -0.01035)"/><text class="pl" transform="translate(0 20.30) scale(1 1.040)" x="209.85 221.64 233.43" y="0">678</text>
<use href="#one" transform="translate(228.26 48.40) scale(0.01035 -0.01035)"/><text class="pl" transform="translate(0 48.40) scale(1 1.040)" x="240.05 251.84 263.63" y="0">662</text>
<use href="#one" transform="translate(275.21 27.40) scale(0.01035 -0.01035)"/><text class="pl" transform="translate(0 27.40) scale(1 1.040)" x="287.00 298.79 310.58" y="0">646</text>
<use href="#one" transform="translate(318.96 71.40) scale(0.01035 -0.01035)"/><text class="pl" transform="translate(0 71.40) scale(1 1.040)" x="330.75 342.54 354.33" y="0">623</text>
<use href="#one" transform="translate(399.14 148.40) scale(0.01035 -0.01035)"/><text class="pl" transform="translate(0 148.40) scale(1 1.040)" x="410.93 422.72 434.51" y="0">574</text>
<use href="#one" transform="translate(438.96 176.90) scale(0.01035 -0.01035)"/><text class="pl" transform="translate(0 176.90) scale(1 1.040)" x="450.75 462.54 474.33" y="0">563</text>
<use href="#one" transform="translate(500.01 203.40) scale(0.01035 -0.01035)"/><text class="pl" transform="translate(0 203.40) scale(1 1.040)" x="511.80 523.59 535.38" y="0">522</text>
<use href="#one" transform="translate(553.88 162.40) scale(0.01035 -0.01035)"/><text class="pl" transform="translate(0 162.40) scale(1 1.040)" x="565.67 577.46 589.25" y="0">502</text>
<use href="#one" transform="translate(745.41 161.40) scale(0.01035 -0.01035)"/><text class="pl" transform="translate(0 161.40) scale(1 1.040)" x="757.20 768.99 780.78" y="0">098</text>
<use href="#one" transform="translate(790.21 122.15) scale(0.01035 -0.01035)"/><text class="pl" transform="translate(0 122.15) scale(1 1.040)" x="802.00 813.79 825.58" y="0">076</text>
<use href="#one" transform="translate(847.30 29.15) scale(0.01035 -0.01035)"/><text class="pl" transform="translate(0 29.15) scale(1 1.040)" x="859.09 870.88 882.67" y="0">047</text>
<use href="#one" transform="translate(922.52 46.40) scale(0.01035 -0.01035)"/><use href="#one" transform="translate(946.10 46.40) scale(0.01035 -0.01035)"/><text class="pl" transform="translate(0 46.40) scale(1 1.040)" x="934.31 957.89" y="0">00</text>
<use href="#one" transform="translate(231.97 190.40) scale(0.01035 -0.01035)"/><text class="pl" transform="translate(0 190.40) scale(1 1.040)" x="243.76 255.55 267.35" y="0">659</text>
<use href="#one" transform="translate(166.39 267.40) scale(0.01035 -0.01035)"/><text class="pl" transform="translate(0 267.40) scale(1 1.040)" x="178.18 189.97 201.76" y="0">694</text>
<use href="#one" transform="translate(398.14 343.15) scale(0.01035 -0.01035)"/><text class="pl" transform="translate(0 343.15) scale(1 1.040)" x="409.93 421.72 433.51" y="0">574</text>
<use href="#one" transform="translate(527.96 340.90) scale(0.01035 -0.01035)"/><text class="pl" transform="translate(0 340.90) scale(1 1.040)" x="539.75 551.54 563.33" y="0">506</text>
<use href="#one" transform="translate(718.26 279.40) scale(0.01035 -0.01035)"/><use href="#one" transform="translate(730.05 279.40) scale(0.01035 -0.01035)"/><use href="#one" transform="translate(741.84 279.40) scale(0.01035 -0.01035)"/><text class="pl" transform="translate(0 279.40) scale(1 1.040)" x="753.63" y="0">2</text>
<use href="#one" transform="translate(826.80 295.90) scale(0.01035 -0.01035)"/><text class="pl" transform="translate(0 295.90) scale(1 1.040)" x="838.59 850.38 862.17" y="0">057</text>
<use href="#one" transform="translate(923.71 213.65) scale(0.01035 -0.01035)"/><text class="pl" transform="translate(0 213.65) scale(1 1.040)" x="935.50 947.29 959.08" y="0">003</text>
<use href="#one" transform="translate(227.88 371.90) scale(0.01035 -0.01035)"/><text class="pl" transform="translate(0 371.90) scale(1 1.040)" x="239.67 251.46 263.25" y="0">662</text>
<use href="#one" transform="translate(296.96 419.40) scale(0.01035 -0.01035)"/><text class="pl" transform="translate(0 419.40) scale(1 1.040)" x="308.75 320.54 332.33" y="0">623</text>
<use href="#one" transform="translate(398.14 473.15) scale(0.01035 -0.01035)"/><text class="pl" transform="translate(0 473.15) scale(1 1.040)" x="409.93 421.72 433.51" y="0">574</text>
<use href="#one" transform="translate(438.21 513.40) scale(0.01035 -0.01035)"/><text class="pl" transform="translate(0 513.40) scale(1 1.040)" x="450.00 461.79 473.58" y="0">563</text>
<use href="#one" transform="translate(499.38 539.90) scale(0.01035 -0.01035)"/><text class="pl" transform="translate(0 539.90) scale(1 1.040)" x="511.17 522.96 534.75" y="0">522</text>
<use href="#one" transform="translate(552.64 505.15) scale(0.01035 -0.01035)"/><text class="pl" transform="translate(0 505.15) scale(1 1.040)" x="564.43 576.22 588.01" y="0">504</text>
<use href="#one" transform="translate(832.51 423.40) scale(0.01035 -0.01035)"/><text class="pl" transform="translate(0 423.40) scale(1 1.040)" x="844.30 856.09 867.88" y="0">054</text>
<use href="#one" transform="translate(929.05 380.90) scale(0.01035 -0.01035)"/><text class="pl" transform="translate(0 380.90) scale(1 1.040)" x="940.84 952.63 964.42" y="0">007</text>
<use href="#one" transform="translate(161.13 584.15) scale(0.01035 -0.01035)"/><text class="pl" transform="translate(0 584.15) scale(1 1.040)" x="172.92 184.71 196.50" y="0">695</text>
<use href="#one" transform="translate(195.77 539.40) scale(0.01035 -0.01035)"/><text class="pl" transform="translate(0 539.40) scale(1 1.040)" x="207.56 219.35 231.14" y="0">680</text>
<use href="#one" transform="translate(227.76 584.15) scale(0.01035 -0.01035)"/><text class="pl" transform="translate(0 584.15) scale(1 1.040)" x="239.55 251.34 263.13" y="0">662</text>
<use href="#one" transform="translate(272.46 547.40) scale(0.01035 -0.01035)"/><text class="pl" transform="translate(0 547.40) scale(1 1.040)" x="284.25 296.04 307.83" y="0">646</text>
<use href="#one" transform="translate(320.46 606.15) scale(0.01035 -0.01035)"/><text class="pl" transform="translate(0 606.15) scale(1 1.040)" x="332.25 344.04 355.83" y="0">623</text>
<use href="#one" transform="translate(396.64 667.90) scale(0.01035 -0.01035)"/><text class="pl" transform="translate(0 667.90) scale(1 1.040)" x="408.43 420.22 432.01" y="0">574</text>
<use href="#one" transform="translate(436.46 695.40) scale(0.01035 -0.01035)"/><text class="pl" transform="translate(0 695.40) scale(1 1.040)" x="448.25 460.04 471.83" y="0">563</text>
<use href="#one" transform="translate(497.88 723.65) scale(0.01035 -0.01035)"/><text class="pl" transform="translate(0 723.65) scale(1 1.040)" x="509.67 521.46 533.25" y="0">522</text>
<use href="#one" transform="translate(551.51 682.40) scale(0.01035 -0.01035)"/><text class="pl" transform="translate(0 682.40) scale(1 1.040)" x="563.30 575.09 586.88" y="0">502</text>
<use href="#one" transform="translate(742.85 654.15) scale(0.01035 -0.01035)"/><text class="pl" transform="translate(0 654.15) scale(1 1.040)" x="754.64 766.43 778.22" y="0">099</text>
<use href="#one" transform="translate(789.46 687.40) scale(0.01035 -0.01035)"/><text class="pl" transform="translate(0 687.40) scale(1 1.040)" x="801.25 813.04 824.83" y="0">076</text>
<use href="#one" transform="translate(850.55 564.40) scale(0.01035 -0.01035)"/><text class="pl" transform="translate(0 564.40) scale(1 1.040)" x="862.34 874.13 885.92" y="0">047</text>
<use href="#one" transform="translate(922.02 572.40) scale(0.01035 -0.01035)"/><use href="#one" transform="translate(945.60 572.40) scale(0.01035 -0.01035)"/><text class="pl" transform="translate(0 572.40) scale(1 1.040)" x="933.81 957.39" y="0">00</text>
<use href="#one" transform="translate(161.93 758.00) scale(0.01035 -0.01035)"/><text class="pl" transform="translate(0 758.00) scale(1 1.040)" x="173.72 185.51 197.30" y="0">695</text>
<use href="#one" transform="translate(195.72 708.65) scale(0.01035 -0.01035)"/><text class="pl" transform="translate(0 708.65) scale(1 1.040)" x="207.51 219.30 231.10" y="0">679</text>
<use href="#one" transform="translate(227.96 743.40) scale(0.01035 -0.01035)"/><text class="pl" transform="translate(0 743.40) scale(1 1.040)" x="239.75 251.54 263.33" y="0">662</text>
<use href="#one" transform="translate(277.46 716.65) scale(0.01035 -0.01035)"/><text class="pl" transform="translate(0 716.65) scale(1 1.040)" x="289.25 301.04 312.83" y="0">646</text>
<use href="#one" transform="translate(308.96 761.80) scale(0.01035 -0.01035)"/><text class="pl" transform="translate(0 761.80) scale(1 1.040)" x="320.75 332.54 344.33" y="0">623</text>
<use href="#one" transform="translate(396.64 836.40) scale(0.01035 -0.01035)"/><text class="pl" transform="translate(0 836.40) scale(1 1.040)" x="408.43 420.22 432.01" y="0">574</text>
<use href="#one" transform="translate(436.96 865.15) scale(0.01035 -0.01035)"/><text class="pl" transform="translate(0 865.15) scale(1 1.040)" x="448.75 460.54 472.33" y="0">563</text>
<use href="#one" transform="translate(498.13 891.90) scale(0.01035 -0.01035)"/><text class="pl" transform="translate(0 891.90) scale(1 1.040)" x="509.92 521.71 533.50" y="0">522</text>
<use href="#one" transform="translate(552.01 851.40) scale(0.01035 -0.01035)"/><text class="pl" transform="translate(0 851.40) scale(1 1.040)" x="563.80 575.59 587.38" y="0">502</text>
<use href="#one" transform="translate(746.60 823.40) scale(0.01035 -0.01035)"/><text class="pl" transform="translate(0 823.40) scale(1 1.040)" x="758.39 770.18 781.97" y="0">099</text>
<use href="#one" transform="translate(790.21 856.40) scale(0.01035 -0.01035)"/><text class="pl" transform="translate(0 856.40) scale(1 1.040)" x="802.00 813.79 825.58" y="0">076</text>
<use href="#one" transform="translate(849.92 741.90) scale(0.01035 -0.01035)"/><text class="pl" transform="translate(0 741.90) scale(1 1.040)" x="861.71 873.50 885.29" y="0">047</text>
<use href="#one" transform="translate(922.02 730.40) scale(0.01035 -0.01035)"/><use href="#one" transform="translate(945.60 730.40) scale(0.01035 -0.01035)"/><text class="pl" transform="translate(0 730.40) scale(1 1.040)" x="933.81 957.39" y="0">00</text>
<text class="tt" x="242.30" y="1026.9">Wavenumber / cm</text><text x="464.90" y="1020.1" font-size="19">-</text><use href="#one" transform="translate(470.10 1019) scale(0.00879 -0.00879)"/>
<text class="tt" x="710.80" y="1026.9">Wavenumber / cm</text><text x="933.40" y="1020.1" font-size="19">-</text><use href="#one" transform="translate(938.60 1019) scale(0.00879 -0.00879)"/>
<text class="tt" transform="translate(28.1 602.3) rotate(-90)">Absorbance (a.u.)</text>
</svg>
</body></html>
